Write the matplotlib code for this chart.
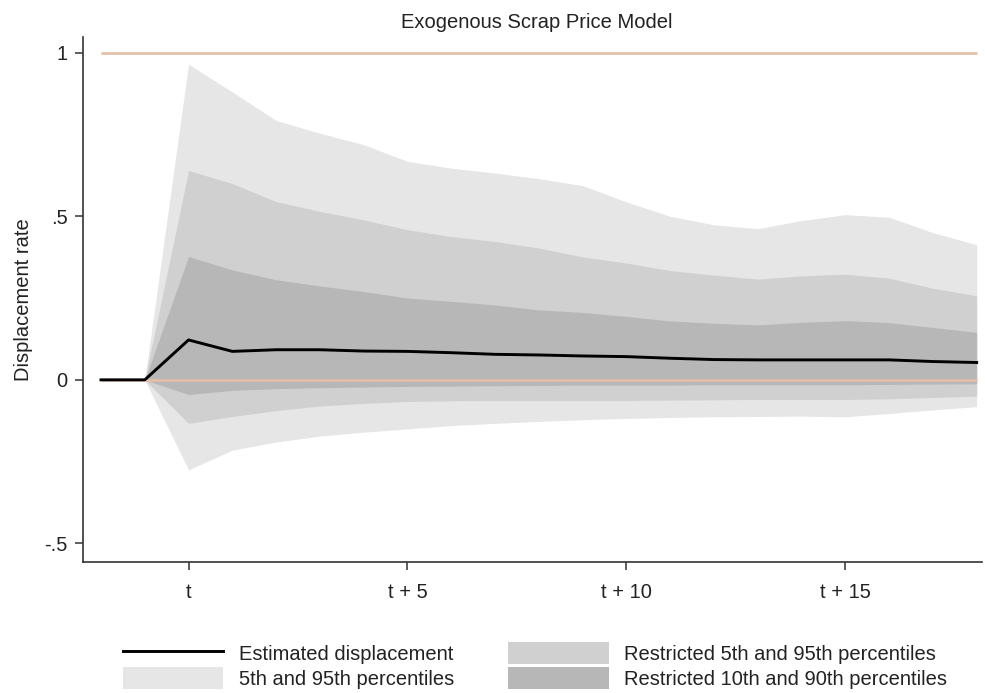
import numpy as np
import matplotlib
matplotlib.use('Agg')
import matplotlib.pyplot as plt
from matplotlib.patches import Patch
from matplotlib.lines import Line2D

plt.rcParams['font.family'] = ['Liberation Sans', 'DejaVu Sans']

# periods relative to t
periods = list(range(-2, 19))

# estimated displacement
est = [0, 0, 0.122, 0.087, 0.092, 0.092, 0.088, 0.087, 0.083, 0.078, 0.076,
       0.073, 0.071, 0.066, 0.062, 0.061, 0.061, 0.061, 0.061, 0.056, 0.053]

# 5th and 95th percentiles
p5 = [0, 0, -0.275, -0.215, -0.19, -0.172, -0.16, -0.15, -0.14, -0.133, -0.127,
      -0.122, -0.118, -0.115, -0.113, -0.112, -0.111, -0.113, -0.103, -0.092, -0.082]
p95 = [0, 0, 0.965, 0.88, 0.793, 0.754, 0.719, 0.668, 0.647, 0.632, 0.615,
       0.594, 0.544, 0.50, 0.474, 0.462, 0.487, 0.505, 0.497, 0.45, 0.413]

# restricted 5th and 95th
r5 = [0, 0, -0.133, -0.112, -0.094, -0.08, -0.072, -0.066, -0.064, -0.063, -0.063,
      -0.063, -0.063, -0.062, -0.061, -0.06, -0.06, -0.06, -0.058, -0.054, -0.05]
r95 = [0, 0, 0.64, 0.60, 0.545, 0.515, 0.489, 0.459, 0.438, 0.423, 0.403,
       0.376, 0.357, 0.334, 0.32, 0.308, 0.318, 0.323, 0.311, 0.28, 0.257]

# restricted 10th and 90th
r10 = [0, 0, -0.045, -0.032, -0.027, -0.024, -0.022, -0.02, -0.019, -0.018, -0.017,
       -0.016, -0.016, -0.016, -0.015, -0.015, -0.015, -0.015, -0.014, -0.013, -0.012]
r90 = [0, 0, 0.377, 0.336, 0.306, 0.287, 0.27, 0.25, 0.24, 0.229, 0.214,
       0.206, 0.194, 0.18, 0.173, 0.168, 0.176, 0.181, 0.175, 0.16, 0.145]

xticks = [0, 5, 10, 15]
xticklabels = ['t', 't + 5', 't + 10', 't + 15']
yticks = [-0.5, 0, 0.5, 1]
yticklabels = ['-.5', '0', '.5', '1']

c_light = '#e6e6e6'
c_med = '#d0d0d0'
c_dark = '#b7b7b7'
c_ref = '#e2bfa6'
txt = '#222222'
fs = 14.5

fig = plt.figure(figsize=(9.85, 6.93), dpi=100)
ax = fig.add_axes([0.0843, 0.189, 0.913, 0.758])

ax.fill_between(periods, p5, p95, color=c_light, lw=0)
ax.fill_between(periods, r5, r95, color=c_med, lw=0)
ax.fill_between(periods, r10, r90, color=c_dark, lw=0)
ax.hlines([0, 1], periods[0], periods[-1], colors=c_ref, lw=1.9)
ax.plot(periods, est, color='black', lw=2.1)

ax.set_xlim(-2.41, 18.13)
ax.set_ylim(-0.557, 1.049)
ax.set_xticks(xticks)
ax.set_xticklabels(xticklabels)
ax.set_yticks(yticks)
ax.set_yticklabels(yticklabels)
ax.tick_params(axis='both', direction='out', length=6, width=1.1, colors='#333333',
               labelcolor=txt, labelsize=fs)
ax.tick_params(axis='x', pad=9)
ax.tick_params(axis='y', pad=5)

for s in ['top', 'right']:
    ax.spines[s].set_visible(False)
for s in ['left', 'bottom']:
    ax.spines[s].set_color('#333333')
    ax.spines[s].set_linewidth(1.2)

ax.set_ylabel('Displacement rate', fontsize=fs, color=txt, labelpad=8)
fig.text(0.545, 0.96, 'Exogenous Scrap Price Model', ha='center', va='baseline',
         fontsize=fs, color=txt)

handles = [Line2D([0], [0], color='black', lw=2.1),
           Patch(facecolor=c_light, edgecolor='none'),
           Patch(facecolor=c_med, edgecolor='none'),
           Patch(facecolor=c_dark, edgecolor='none')]
labels = ['Estimated displacement', '5th and 95th percentiles',
          'Restricted 5th and 95th percentiles', 'Restricted 10th and 90th percentiles']
fig.legend(handles, labels, ncol=2, loc='center', bbox_to_anchor=(0.543, 0.04),
           frameon=False, fontsize=fs, handlelength=5.0, handleheight=1.3,
           handletextpad=0.75, columnspacing=2.7, labelspacing=0.15, labelcolor=txt)

fig.savefig('out.png', dpi=100)
